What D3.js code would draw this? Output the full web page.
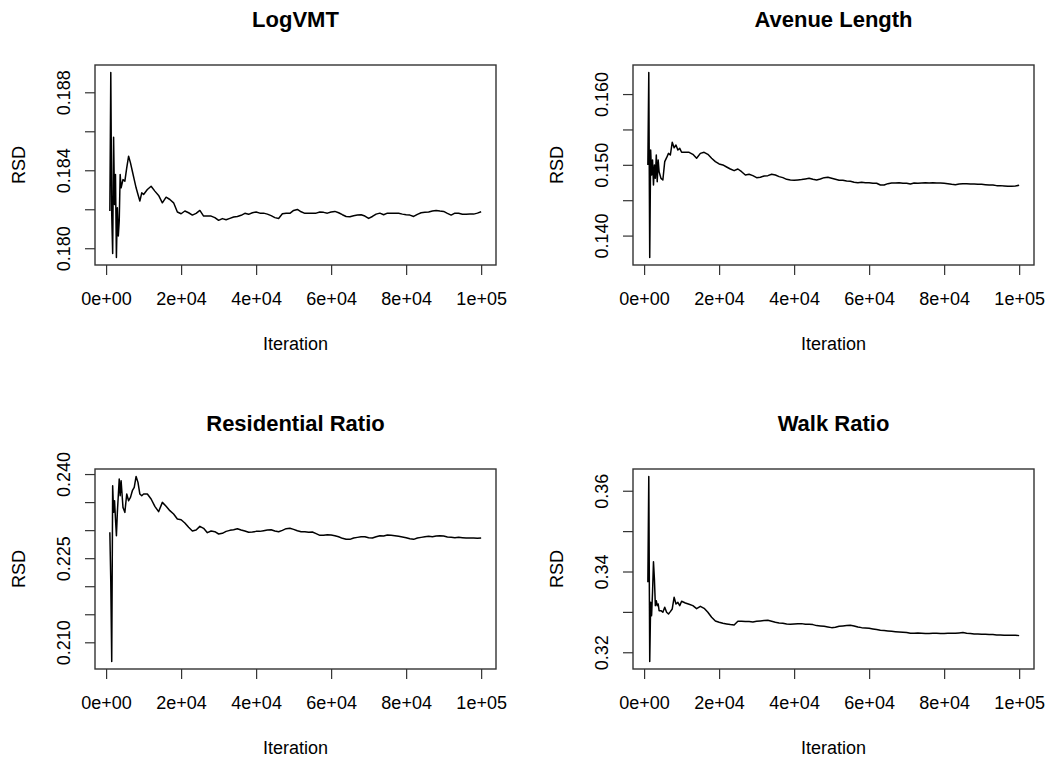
<!DOCTYPE html>
<html>
<head>
<meta charset="utf-8">
<script src="https://cdn.jsdelivr.net/npm/d3@7"></script>
<style>
  body { margin: 0; background: #fff; }
  text { font-family: "Liberation Sans", Arial, sans-serif; fill: #000; }
</style>
</head>
<body>
<svg id="chart" width="1051" height="758"></svg>
<script>
// sampling grid of the running RSD traces (iterations)
const iteration = d3.range(1000, 4000, 250).concat(d3.range(4000, 10000, 500), d3.range(10000, 100001, 1000));

// values, one per iteration
const logVMT = [
  0.18191, 0.18902, 0.18174, 0.17973, 0.18569, 0.18225, 0.18378, 0.17952, 0.18208, 0.18063, 0.18140, 0.18378,
  0.18310, 0.18352, 0.18344, 0.18412, 0.18472, 0.18438, 0.18395, 0.18352, 0.18310, 0.18276, 0.18242, 0.18284,
  0.18276,
  0.18301, 0.18318, 0.18293, 0.18271, 0.18233, 0.18262, 0.18250, 0.18233, 0.18186, 0.18177,
  0.18191, 0.18182, 0.18170, 0.18179, 0.18194, 0.18165, 0.18165, 0.18165, 0.18157, 0.18143,
  0.18152, 0.18146, 0.18153, 0.18160, 0.18163, 0.18169, 0.18179, 0.18174, 0.18182, 0.18186,
  0.18180, 0.18180, 0.18175, 0.18167, 0.18157, 0.18153, 0.18177, 0.18180, 0.18179, 0.18194,
  0.18199, 0.18187, 0.18179, 0.18179, 0.18179, 0.18180, 0.18186, 0.18184, 0.18180, 0.18186,
  0.18189, 0.18182, 0.18172, 0.18163, 0.18162, 0.18167, 0.18170, 0.18172, 0.18165, 0.18153,
  0.18163, 0.18175, 0.18180, 0.18172, 0.18180, 0.18179, 0.18180, 0.18179, 0.18175, 0.18172,
  0.18170, 0.18163, 0.18174, 0.18182, 0.18184, 0.18186, 0.18191, 0.18194, 0.18191, 0.18189,
  0.18179, 0.18170, 0.18180, 0.18179, 0.18174, 0.18174, 0.18175, 0.18175, 0.18180, 0.18187
];

const avenueLength = [
  0.14998, 0.16306, 0.13689, 0.15209, 0.14856, 0.15068, 0.14715, 0.14998, 0.14809, 0.15139, 0.14762, 0.15068,
  0.14903, 0.14809, 0.14786, 0.15045, 0.15101, 0.15162, 0.15139, 0.15318, 0.15242, 0.15280, 0.15209, 0.15233,
  0.15177,
  0.15177, 0.15177, 0.15148, 0.15092, 0.15162, 0.15177, 0.15148, 0.15092, 0.15045, 0.15012,
  0.14998, 0.14969, 0.14941, 0.14918, 0.14941, 0.14903, 0.14856, 0.14866, 0.14847, 0.14819,
  0.14824, 0.14842, 0.14847, 0.14866, 0.14856, 0.14833, 0.14819, 0.14795, 0.14786, 0.14781,
  0.14786, 0.14791, 0.14800, 0.14809, 0.14795, 0.14786, 0.14800, 0.14819, 0.14824, 0.14809,
  0.14795, 0.14781, 0.14781, 0.14772, 0.14767, 0.14753, 0.14748, 0.14753, 0.14748, 0.14748,
  0.14739, 0.14739, 0.14715, 0.14715, 0.14734, 0.14744, 0.14744, 0.14748, 0.14739, 0.14739,
  0.14729, 0.14744, 0.14739, 0.14744, 0.14748, 0.14744, 0.14748, 0.14744, 0.14744, 0.14739,
  0.14734, 0.14725, 0.14720, 0.14729, 0.14734, 0.14734, 0.14729, 0.14729, 0.14725, 0.14725,
  0.14720, 0.14715, 0.14715, 0.14706, 0.14706, 0.14701, 0.14696, 0.14696, 0.14701, 0.14711
];

const residentialRatio = [
  0.22961, 0.22070, 0.20656, 0.23792, 0.23317, 0.23525, 0.23198, 0.22901, 0.23317, 0.23614, 0.23911, 0.23614,
  0.23881, 0.23406, 0.23317, 0.23644, 0.23525, 0.23584, 0.23703, 0.23762, 0.23958, 0.23852, 0.23644, 0.23614,
  0.23644,
  0.23644, 0.23555, 0.23424, 0.23329, 0.23495, 0.23424, 0.23347, 0.23287, 0.23198, 0.23186,
  0.23127, 0.23050, 0.22984, 0.23002, 0.23067, 0.23032, 0.22955, 0.22984, 0.22972, 0.22931,
  0.22943, 0.22978, 0.22996, 0.23008, 0.23026, 0.23002, 0.22984, 0.22961, 0.22966, 0.22978,
  0.22978, 0.22990, 0.23002, 0.23008, 0.22984, 0.22972, 0.22996, 0.23026, 0.23032, 0.23014,
  0.22990, 0.22972, 0.22972, 0.22961, 0.22966, 0.22937, 0.22907, 0.22907, 0.22919, 0.22913,
  0.22901, 0.22883, 0.22854, 0.22836, 0.22836, 0.22860, 0.22871, 0.22883, 0.22883, 0.22865,
  0.22860, 0.22883, 0.22901, 0.22895, 0.22913, 0.22907, 0.22901, 0.22889, 0.22877, 0.22865,
  0.22848, 0.22836, 0.22860, 0.22871, 0.22883, 0.22889, 0.22883, 0.22895, 0.22901, 0.22895,
  0.22877, 0.22871, 0.22865, 0.22871, 0.22865, 0.22860, 0.22860, 0.22860, 0.22854, 0.22860
];

const walkRatio = [
  0.33732, 0.36355, 0.31769, 0.33237, 0.32907, 0.33485, 0.34243, 0.33814, 0.33155, 0.33278, 0.33155, 0.33196,
  0.33031, 0.33031, 0.32990, 0.33113, 0.32990, 0.32949, 0.33006, 0.33072, 0.33361, 0.33196, 0.33237, 0.33155,
  0.33262,
  0.33221, 0.33188, 0.33155, 0.33081, 0.33138, 0.33089, 0.32990, 0.32866, 0.32775, 0.32742,
  0.32718, 0.32701, 0.32685, 0.32676, 0.32767, 0.32767, 0.32759, 0.32759, 0.32751, 0.32767,
  0.32775, 0.32784, 0.32792, 0.32767, 0.32742, 0.32726, 0.32718, 0.32701, 0.32693, 0.32701,
  0.32709, 0.32709, 0.32693, 0.32693, 0.32685, 0.32660, 0.32652, 0.32643, 0.32627, 0.32610,
  0.32619, 0.32643, 0.32652, 0.32660, 0.32668, 0.32652, 0.32627, 0.32610, 0.32602, 0.32594,
  0.32577, 0.32561, 0.32544, 0.32536, 0.32528, 0.32520, 0.32511, 0.32503, 0.32495, 0.32487,
  0.32470, 0.32470, 0.32478, 0.32470, 0.32462, 0.32462, 0.32470, 0.32470, 0.32462, 0.32462,
  0.32470, 0.32470, 0.32470, 0.32478, 0.32487, 0.32470, 0.32462, 0.32454, 0.32454, 0.32445,
  0.32445, 0.32437, 0.32437, 0.32429, 0.32429, 0.32421, 0.32421, 0.32421, 0.32421, 0.32412
];

const titles = ['LogVMT', 'Avenue Length', 'Residential Ratio', 'Walk Ratio'];

const xTicks = [0, 20000, 40000, 60000, 80000, 100000];
const xTickLabels = ['0e+00', '2e+04', '4e+04', '6e+04', '8e+04', '1e+05'];

const yTicks = [
  [0.180, 0.182, 0.184, 0.186, 0.188],
  [0.140, 0.145, 0.150, 0.155, 0.160],
  [0.210, 0.215, 0.220, 0.225, 0.230, 0.235, 0.240],
  [0.32, 0.33, 0.34, 0.35, 0.36]
];
const yTickLabels = [
  ['0.180', '', '0.184', '', '0.188'],
  ['0.140', '', '0.150', '', '0.160'],
  ['0.210', '', '', '0.225', '', '', '0.240'],
  ['0.32', '', '0.34', '', '0.36']
];

const series = [logVMT, avenueLength, residentialRatio, walkRatio];

const svg = d3.select('#chart');
const boxW = 401, boxH = 200;
const origins = [[95, 65], [633, 65], [95, 469], [633, 469]];
const font = '"Liberation Sans", Arial, sans-serif';

// R style: stretch the data range by 4% on each side
function padded(ext) {
  const r = ext[1] - ext[0];
  return [ext[0] - 0.04 * r, ext[1] + 0.04 * r];
}

series.forEach((values, i) => {
  const [left, top] = origins[i];
  const g = svg.append('g').attr('transform', `translate(${left},${top})`);

  const x = d3.scaleLinear().domain(padded(d3.extent(iteration))).range([0, boxW]);
  const y = d3.scaleLinear().domain(padded(d3.extent(values))).range([boxH, 0]);

  const line = d3.line()
    .x((d, j) => x(iteration[j]))
    .y(d => y(d));

  g.append('path')
    .datum(values)
    .attr('d', line)
    .attr('fill', 'none')
    .attr('stroke', '#000')
    .attr('stroke-width', 1.5)
    .attr('stroke-linejoin', 'round');

  g.append('rect')
    .attr('x', 0).attr('y', 0)
    .attr('width', boxW).attr('height', boxH)
    .attr('fill', 'none')
    .attr('stroke', '#333')
    .attr('stroke-width', 1.4);

  const xAxis = g.append('g')
    .attr('transform', `translate(0,${boxH})`)
    .call(d3.axisBottom(x).tickValues(xTicks).tickFormat((d, k) => xTickLabels[k]).tickSize(10));
  xAxis.select('.domain').remove();
  xAxis.selectAll('line').attr('stroke', '#333').attr('stroke-width', 1.2);
  xAxis.selectAll('text')
    .attr('y', 40).attr('dy', 0)
    .attr('font-size', 18)
    .attr('font-family', font)
    .attr('fill', '#000');

  const yAxis = g.append('g')
    .call(d3.axisLeft(y).tickValues(yTicks[i]).tickFormat((d, k) => yTickLabels[i][k]).tickSize(10));
  yAxis.select('.domain').remove();
  yAxis.selectAll('line').attr('stroke', '#333').attr('stroke-width', 1.2);
  yAxis.selectAll('text')
    .attr('transform', 'rotate(-90)')
    .attr('x', 0).attr('y', -25).attr('dy', 0)
    .attr('text-anchor', 'middle')
    .attr('font-size', 18)
    .attr('font-family', font)
    .attr('fill', '#000');

  g.append('text')
    .attr('x', boxW / 2).attr('y', -38)
    .attr('text-anchor', 'middle')
    .attr('font-size', 22)
    .attr('font-weight', 'bold')
    .text(titles[i]);

  g.append('text')
    .attr('x', boxW / 2).attr('y', 285)
    .attr('text-anchor', 'middle')
    .attr('font-size', 18)
    .text('Iteration');

  g.append('text')
    .attr('transform', `translate(-70,${boxH / 2}) rotate(-90)`)
    .attr('text-anchor', 'middle')
    .attr('font-size', 18)
    .text('RSD');
});
</script>
</body>
</html>
